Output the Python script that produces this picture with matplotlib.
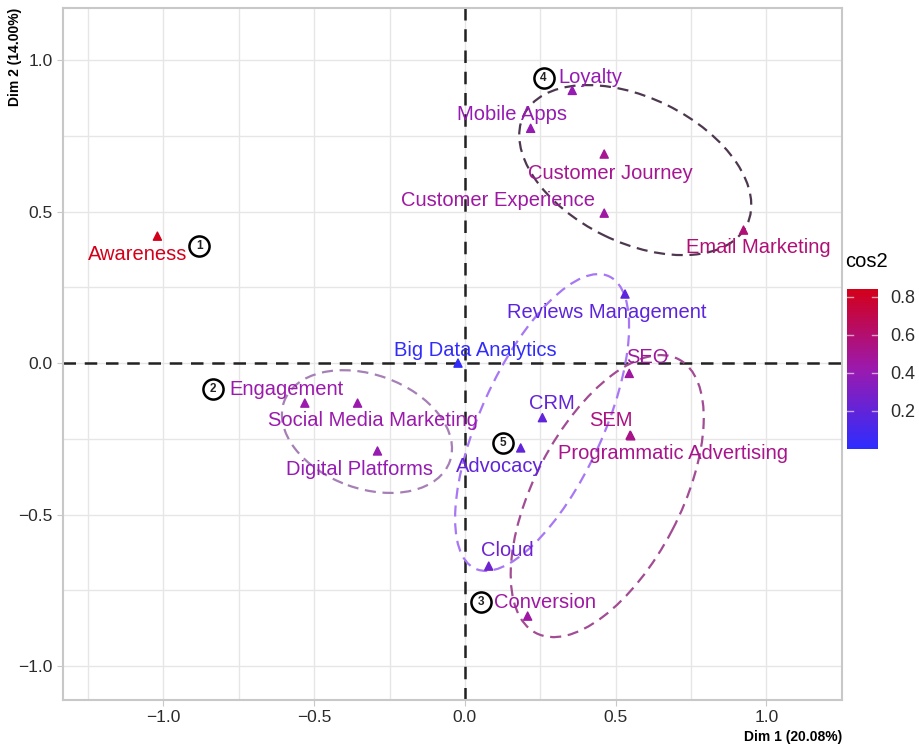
import numpy as np
import matplotlib
matplotlib.use('Agg')
import matplotlib.pyplot as plt
from matplotlib.patches import Ellipse
from matplotlib.colors import LinearSegmentedColormap, Normalize

plt.rcParams['font.family'] = ['Liberation Sans', 'DejaVu Sans']

# variable coordinates on the first two dimensions and their cos2
names = ['Awareness', 'Loyalty', 'Mobile Apps', 'Customer Journey', 'Customer Experience',
         'Email Marketing', 'Reviews Management', 'Big Data Analytics', 'SEO', 'CRM',
         'SEM', 'Programmatic Advertising', 'Advocacy', 'Cloud', 'Conversion',
         'Engagement', 'Social Media Marketing', 'Digital Platforms']
dim1 = [-1.02, 0.356, 0.218, 0.462, 0.462, 0.924, 0.531, -0.023, 0.545, 0.257,
        0.548, 0.550, 0.185, 0.079, 0.208, -0.531, -0.356, -0.290]
dim2 = [0.419, 0.900, 0.775, 0.690, 0.495, 0.439, 0.228, 0.000, -0.034, -0.180,
        -0.238, -0.240, -0.280, -0.670, -0.835, -0.132, -0.132, -0.290]
cos2 = [0.84, 0.40, 0.40, 0.50, 0.45, 0.58, 0.18, 0.02, 0.46, 0.20,
        0.55, 0.52, 0.20, 0.25, 0.45, 0.42, 0.42, 0.40]

# where each label sits (repelled text positions)
label_x = [-1.086, 0.416, 0.155, 0.482, 0.109, 0.974, 0.472, 0.036, 0.604, 0.290,
           0.485, 0.690, 0.116, 0.139, 0.264, -0.591, -0.304, -0.350]
label_y = [0.360, 0.944, 0.822, 0.627, 0.535, 0.383, 0.168, 0.043, 0.017, -0.135,
           -0.191, -0.297, -0.340, -0.620, -0.789, -0.086, -0.188, -0.350]

# group markers
group_ids = ['1', '2', '3', '4', '5']
group_x = [-0.881, -0.835, 0.053, 0.261, 0.125]
group_y = [0.386, -0.086, -0.787, 0.940, -0.264]

# cluster ellipses: centre, semi-axes, rotation (deg)
ell_cx = [0.565, -0.325, 0.256, 0.472]
ell_cy = [0.637, -0.226, -0.196, -0.439]
ell_a = [0.412, 0.292, 0.531, 0.510]
ell_b = [0.239, 0.188, 0.203, 0.243]
ell_ang = [-26.0, -19.7, 65.3, 62.3]
ell_col = ['#4e3850', '#a57fb5', '#a777f5', '#a24c94']

cmap = LinearSegmentedColormap.from_list('cos2', ['#2d2dff', '#9b1aae', '#d3001a'])
norm = Normalize(vmin=0.0, vmax=0.84)

fig = plt.figure(figsize=(9.2, 7.47), dpi=100)
ax = fig.add_axes([0.0685, 0.0629, 0.8465, 0.9264])

ax.set_xlim(-1.333, 1.238)
ax.set_ylim(-1.112, 1.172)

ax.set_xticks([-1.0, -0.5, 0.0, 0.5, 1.0])
ax.set_yticks([-1.0, -0.5, 0.0, 0.5, 1.0])
ax.set_xticks(np.arange(-1.25, 1.3, 0.25), minor=True)
ax.set_yticks(np.arange(-1.0, 1.2, 0.25), minor=True)
ax.grid(True, which='both', color='#e6e6e6', lw=1.0, zorder=0)
ax.set_axisbelow(True)
ax.tick_params(which='major', length=4, color='#c8c8c8', labelsize=12.5, labelcolor='#2b2b2b')
ax.tick_params(which='minor', length=0)
ax.set_xticklabels(['\u22121.0', '\u22120.5', '0.0', '0.5', '1.0'])
ax.set_yticklabels(['\u22121.0', '\u22120.5', '0.0', '0.5', '1.0'])
for sp in ax.spines.values():
    sp.set_color('#c8c8c8')
    sp.set_linewidth(1.5)

ax.axhline(0, color='#222222', ls=(0, (5, 3.5)), lw=1.8, zorder=1)
ax.axvline(0, color='#222222', ls=(0, (5, 3.5)), lw=1.8, zorder=1)

for cx, cy, a, b, ang, c in zip(ell_cx, ell_cy, ell_a, ell_b, ell_ang, ell_col):
    ax.add_patch(Ellipse((cx, cy), 2 * a, 2 * b, angle=ang, fill=False,
                         ec=c, lw=1.6, ls=(0, (5, 3)), zorder=2))

ax.scatter(dim1, dim2, c=cos2, cmap=cmap, norm=norm, marker='^', s=34, zorder=3)

for n, lx, ly, v in zip(names, label_x, label_y, cos2):
    ax.text(lx, ly, n, color=cmap(norm(v)), fontsize=14.5, ha='center', va='center', zorder=4)

for g, gx, gy in zip(group_ids, group_x, group_y):
    ax.plot(gx, gy, marker='o', ms=14.5, mfc='white', mec='black', mew=1.8, zorder=5)
    ax.text(gx, gy, g, fontsize=8.5, fontweight='bold', ha='center', va='center',
            color='#222222', zorder=6)

# colour bar
cax = fig.add_axes([847 / 920, 1 - 449 / 747, 31 / 920, 160 / 747])
cb = fig.colorbar(plt.cm.ScalarMappable(norm=norm, cmap=cmap), cax=cax)
cb.set_ticks([0.2, 0.4, 0.6, 0.8])
cb.ax.tick_params(length=0, pad=9, labelsize=13, labelcolor='#2b2b2b')
cb.outline.set_visible(False)
for t in [0.2, 0.4, 0.6, 0.8]:
    cb.ax.plot([0, 0.2], [t, t], color='white', lw=1, alpha=0.6)
    cb.ax.plot([0.8, 1], [t, t], color='white', lw=1, alpha=0.6)
fig.text(845 / 920, 1 - 262 / 747, 'cos2', fontsize=14.5, ha='left', va='center')

fig.text(15 / 920, 1 - 8 / 747, 'Dim 2 (14.00%)', rotation=90, fontsize=10,
         fontweight='bold', ha='center', va='top')
fig.text(842 / 920, 1 - 737 / 747, 'Dim 1 (20.08%)', fontsize=10,
         fontweight='bold', ha='right', va='center')

fig.savefig('out.png', dpi=100)
